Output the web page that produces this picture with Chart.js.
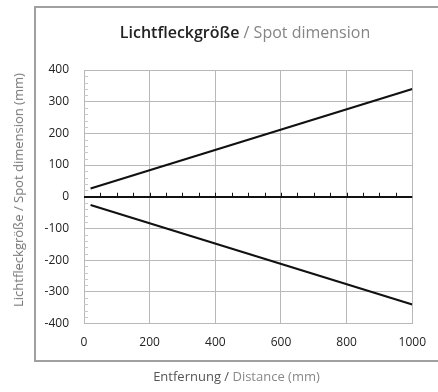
<!DOCTYPE html>
<html>
<head>
<meta charset="utf-8">
<script src="https://cdn.jsdelivr.net/npm/chart.js@4"></script>
<style>
    html, body { margin: 0; padding: 0; background: #fff; }
    #wrap { position: relative; width: 438px; height: 392px; font-family: 'Open Sans', sans-serif; }
    #chart { position: absolute; left: 0; top: 0; }
    .title { position: absolute; left: 52px; right: 0; top: 21px; text-align: center; font-size: 16px; white-space: nowrap; }
    .title .de { color: #222; font-weight: 600; }
    .title .en { color: #858585; }
    .xtitle { position: absolute; left: 35px; right: 0; top: 367px; text-align: center; font-size: 13px; white-space: nowrap; }
    .xtitle .de { color: #555; }
    .xtitle .en { color: #888; }
    .ytitle { position: absolute; left: 18px; top: 190px; transform: translate(-50%, -50%) rotate(-90deg); font-size: 13px; font-weight: 400; color: #777; white-space: nowrap; }
</style>
</head>
<body>
<div id="wrap">
    <canvas id="chart" width="438" height="392"></canvas>
    <div class="title"><span class="de">Lichtfleckgröße</span><span class="en"> / Spot dimension</span></div>
    <div class="xtitle"><span class="de">Entfernung /</span><span class="en"> Distance (mm)</span></div>
    <div class="ytitle">Lichtfleckgröße / Spot dimension (mm)</div>
</div>
<script>
// --- Data ---
const distances = [20, 1000];          // Entfernung (mm)
const spotUpper = [26, 340];           // + half spot size (mm)
const spotLower = [-26, -340];         // - half spot size (mm)

const xTicks = [0, 200, 400, 600, 800, 1000];
const yTicks = [-400, -300, -200, -100, 0, 100, 200, 300, 400];

const gridGray = '#b8b8b8';
const frameGray = '#a0a0a0';

// frame around the chart + minor ticks
const framePlugin = {
    id: 'frame',
    beforeDraw(chart) {
        const c = chart.ctx;
        c.save();
        c.strokeStyle = frameGray;
        c.lineWidth = 2;
        c.beginPath();
        c.moveTo(440, 7);
        c.lineTo(35, 7);
        c.lineTo(35, 361);
        c.lineTo(440, 361);
        c.stroke();
        c.restore();
    },
    afterDatasetsDraw(chart) {
        const c = chart.ctx;
        const xs = chart.scales.x, ys = chart.scales.y;
        const y0 = ys.getPixelForValue(0);
        c.save();
        // minor ticks on zero line, every 50 mm
        c.strokeStyle = '#111';
        c.lineWidth = 1;
        for (let v = 50; v < 1000; v += 50) {
            const px = Math.round(xs.getPixelForValue(v)) + 0.5;
            c.beginPath();
            c.moveTo(px, y0);
            c.lineTo(px, y0 - 4);
            c.stroke();
        }
        // minor ticks on left edge, every 20 mm
        c.strokeStyle = '#c8c8c8';
        const left = chart.chartArea.left;
        for (let v = -380; v < 400; v += 20) {
            if (v % 100 === 0) continue;
            const py = Math.round(ys.getPixelForValue(v)) + 0.5;
            c.beginPath();
            c.moveTo(left, py);
            c.lineTo(left + 4, py);
            c.stroke();
        }
        c.restore();
    }
};

function toPoints(xs, ys) {
    return xs.map((x, i) => ({ x: x, y: ys[i] }));
}

new Chart(document.getElementById('chart'), {
    type: 'line',
    data: {
        datasets: [
            { data: toPoints(distances, spotUpper), borderColor: '#111', borderWidth: 2.2, pointRadius: 0, tension: 0 },
            { data: toPoints(distances, spotLower), borderColor: '#111', borderWidth: 2.2, pointRadius: 0, tension: 0 }
        ]
    },
    options: {
        responsive: false,
        animation: false,
        layout: { padding: { left: 0, top: 70, right: 17.5, bottom: 38.5 } },
        plugins: { legend: { display: false }, tooltip: { enabled: false } },
        scales: {
            x: {
                type: 'linear',
                min: 0, max: 1000,
                afterBuildTicks: (s) => { s.ticks = xTicks.map(v => ({ value: v })); },
                afterFit: (s) => { s.height = 30; },
                grid: {
                    color: gridGray,
                    lineWidth: 1,
                    drawTicks: false
                },
                border: { display: false },
                ticks: {
                    padding: 12, color: '#222', maxRotation: 0,
                    font: { family: "'Open Sans', sans-serif", size: 12 },
                    callback: (v) => String(v)
                }
            },
            y: {
                min: -400, max: 400,
                afterBuildTicks: (s) => { s.ticks = yTicks.map(v => ({ value: v })); },
                afterFit: (s) => { s.width = 84; },
                grid: {
                    color: (ctx) => ctx.tick && ctx.tick.value === 0 ? '#111' : gridGray,
                    lineWidth: (ctx) => ctx.tick && ctx.tick.value === 0 ? 2 : 1,
                    drawTicks: false
                },
                border: { display: false },
                ticks: {
                    padding: 15, color: '#222',
                    font: { family: "'Open Sans', sans-serif", size: 12 },
                    callback: (v) => String(v)
                }
            }
        }
    },
    plugins: [framePlugin]
});
</script>
</body>
</html>
